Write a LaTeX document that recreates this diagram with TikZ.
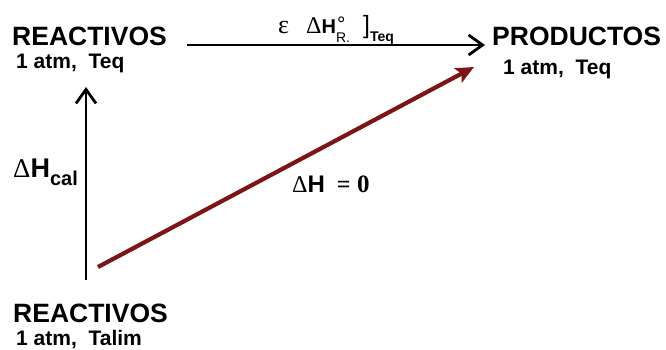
\documentclass[tikz,border=0pt]{standalone}
\usepackage{fontspec}
\setmainfont{Liberation Sans}
\newfontfamily\serifgr{Liberation Serif}
\usetikzlibrary{arrows.meta}
\definecolor{darkred}{RGB}{125,20,22}
\tikzset{
  lbl/.style={inner sep=0pt, anchor=base west, font=\bfseries},
  big/.style={lbl, font=\fontsize{26.5}{26.5}\selectfont\bfseries},
  small/.style={lbl, font=\fontsize{21}{21}\selectfont\bfseries},
  blkarrow/.style={line width=2.8pt, -{Straight Barb[length=14pt,width=20pt,line width=2.8pt]}},
  redarrow/.style={darkred, line width=4.2pt, -{Stealth[length=18pt,width=16pt,inset=4pt]}}
}
\begin{document}
\begin{tikzpicture}[x=1pt,y=-1pt]
\fill[white] (0,0) rectangle (666,349);
\useasboundingbox (0,0) rectangle (666,349);
\node[big] (rtop) at (12,45) {REACTIVOS};
\node[small] (rtopc) at (16,68) {1 atm,\ \ Teq};
\node[big] (prod) at (492,45) {PRODUCTOS};
\node[small] (prodc) at (503,74) {1 atm,\ \ Teq};
\node[big] (rbot) at (13,322) {REACTIVOS};
\node[small] (rbotc) at (16,345) {1 atm,\ \ Talim};
\node[lbl, font=\fontsize{27}{27}\selectfont\bfseries] (hcal) at (13,177)
  {{\serifgr\mdseries Δ}H\raisebox{-0.3em}{\fontsize{20}{20}\selectfont cal}};
\node[lbl, font=\fontsize{24}{24}\selectfont\bfseries] (hzero) at (292,192)
  {{\serifgr\mdseries Δ}H\hspace{12pt}{\serifgr =}\hspace{6.5pt}{\serifgr\fontsize{25}{25}\selectfont 0}};
\node[lbl, font=\fontsize{20}{20}\selectfont\bfseries] (hr) at (278,33)
  {\makebox[28pt][l]{\serifgr\mdseries\fontsize{26}{26}\selectfont ε}{\serifgr\mdseries\fontsize{24}{24}\selectfont Δ}H\rlap{\hspace{1pt}\raisebox{2pt}{\fontsize{21}{21}\selectfont\mdseries °}}\raisebox{-9pt}{\fontsize{14}{14}\selectfont\mdseries R.}\hspace{13pt}{\mdseries\fontsize{25}{25}\selectfont]}\raisebox{-8pt}{\fontsize{14}{14}\selectfont Teq}};
\coordinate (h1) at (187,45);
\coordinate (h2) at (485,45);
\coordinate (v1) at (86,280);
\coordinate (v2) at (86,87);
\coordinate (r1) at (98,267);
\coordinate (r2) at (474,67);
\draw[blkarrow] (h1) -- (h2);
\draw[blkarrow] (v1) -- (v2);
\draw[redarrow] (r1) -- (r2);
\end{tikzpicture}
\end{document}
